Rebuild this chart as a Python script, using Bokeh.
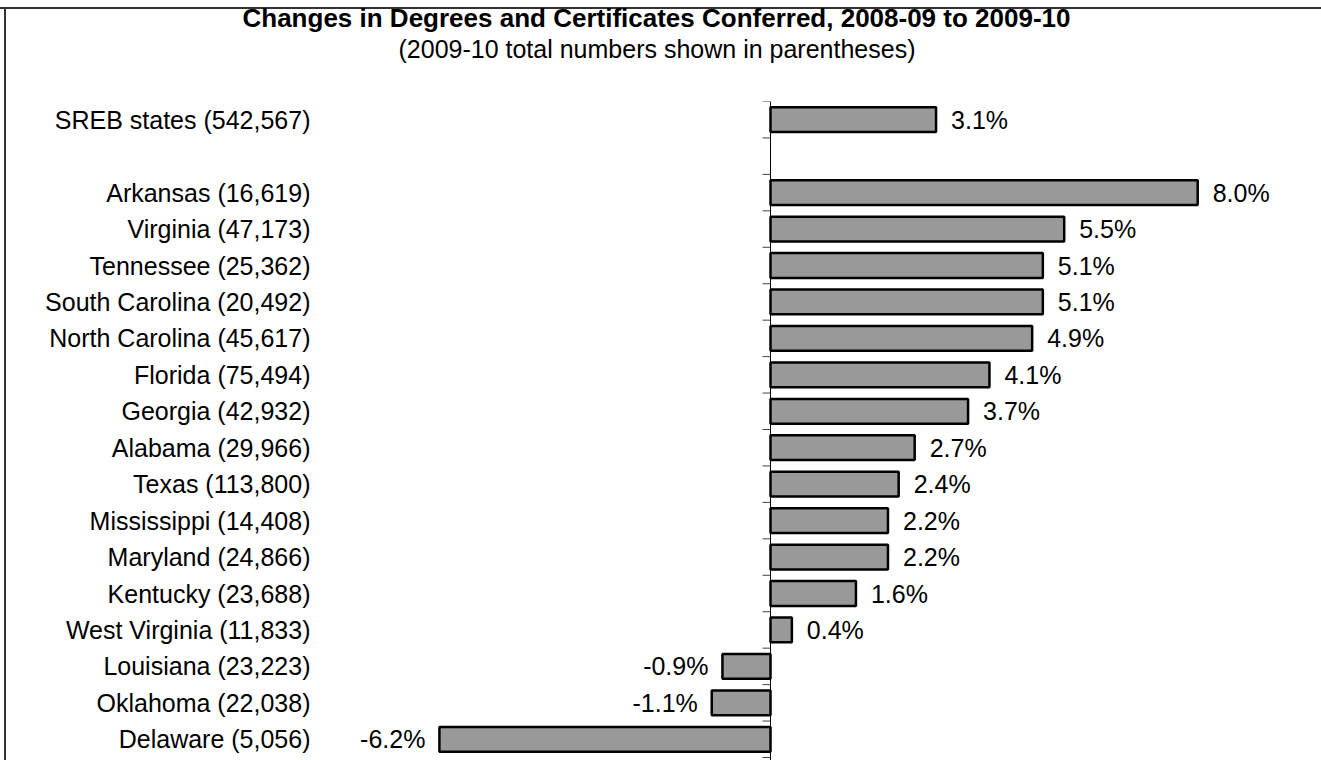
from bokeh.plotting import figure
from bokeh.models import Range1d, LinearAxis, FixedTicker, Span, Title, ColumnDataSource
from bokeh.core.properties import value
from bokeh.embed import file_html
from bokeh.resources import INLINE

# ---- data ----
regions = ["SREB states", "Arkansas", "Virginia", "Tennessee", "South Carolina",
           "North Carolina", "Florida", "Georgia", "Alabama", "Texas", "Mississippi",
           "Maryland", "Kentucky", "West Virginia", "Louisiana", "Oklahoma", "Delaware"]
totals = [542567, 16619, 47173, 25362, 20492, 45617, 75494, 42932, 29966, 113800,
          14408, 24866, 23688, 11833, 23223, 22038, 5056]
changes = [3.1, 8.0, 5.5, 5.1, 5.1, 4.9, 4.1, 3.7, 2.7, 2.4, 2.2, 2.2, 1.6, 0.4,
           -0.9, -1.1, -6.2]
title_text = "Changes in Degrees and Certificates Conferred, 2008-09 to 2009-10"
subtitle_text = "(2009-10 total numbers shown in parentheses)"

FONT = "Liberation Sans"
FS = "25px"

# row positions: SREB first, then a blank row, then the states
rows = [0] + [i + 1 for i in range(1, len(regions))]
labels = ["%s (%s)" % (r, format(t, ",")) for r, t in zip(regions, totals)]
vtext = ["%.1f%%" % c for c in changes]

src = ColumnDataSource(dict(
    y=rows, right=changes, left=[0] * len(changes), txt=vtext,
    align=["left" if c >= 0 else "right" for c in changes],
    xoff=[15 if c >= 0 else -14 for c in changes],
))

W, H = 1321, 760
frame_left = 330
zero_px = 770
ppu = 53.4
x0 = -(zero_px - frame_left) / ppu
x1 = (W - zero_px) / ppu
nrows = rows[-1] + 1
row_px = 36.5
frame_top = 100
frame_h = H - frame_top
y_bottom = -0.5 + frame_h / row_px

p = figure(width=W, height=H, output_backend="svg", toolbar_location=None,
           x_range=Range1d(x0, x1), y_range=Range1d(y_bottom, -0.5),
           x_axis_location=None, y_axis_location=None,
           min_border_left=frame_left, min_border_right=0, min_border_bottom=0,
           min_border_top=frame_top)
p.outline_line_color = None
p.xgrid.visible = False
p.ygrid.visible = False
p.background_fill_color = "white"
p.border_fill_color = None
# chart-area frame (top and left edges) painted behind the transparent canvas border
p.styles = {"background": "linear-gradient(#333333, #333333) 0px 7px / 100% 2px no-repeat, "
                          "linear-gradient(#333333, #333333) 4px 7px / 2px 100% no-repeat, white"}

# titles: spacer (closest to plot), subtitle, main title
p.add_layout(Title(text=" ", text_font=FONT, text_font_size="10px", standoff=26), "above")
p.add_layout(Title(text=subtitle_text, align="left", offset=68, standoff=0,
                   text_font=FONT, text_font_size="25px", text_font_style="normal",
                   text_color="black"), "above")
p.add_layout(Title(text=title_text, align="left", offset=-88, standoff=0,
                   text_font=FONT, text_font_size="26px", text_font_style="bold",
                   text_color="black"), "above")

# category axis
yax = LinearAxis(ticker=FixedTicker(ticks=rows),
                 major_label_overrides={r: l for r, l in zip(rows, labels)})
yax.axis_line_color = None
yax.major_tick_line_color = None
yax.minor_tick_line_color = None
yax.major_tick_out = 0
yax.major_tick_in = 0
yax.major_label_standoff = 20
yax.major_label_text_font = FONT
yax.major_label_text_font_size = FS
yax.major_label_text_color = "black"
p.add_layout(yax, "left")

# bars
p.hbar(y="y", left="left", right="right", height=0.68, source=src,
       fill_color="#999999", line_color="black", line_width=2.5)

# value labels
p.text(x="right", y="y", text="txt", source=src, text_align="align",
       x_offset="xoff", text_baseline="middle", text_font=value(FONT),
       text_font_size=FS, text_color="black")

# zero axis line + ticks at row boundaries
p.add_layout(Span(location=0, dimension="height", line_color="black", line_width=1))
bounds = [r - 0.5 for r in range(nrows)] + [nrows - 0.5]
p.ray(x=[0] * len(bounds), y=bounds, length=8, length_units="screen", angle=3.14159265,
      line_color="#444444", line_width=1)

open("out.html", "w").write(file_html(p, INLINE))
